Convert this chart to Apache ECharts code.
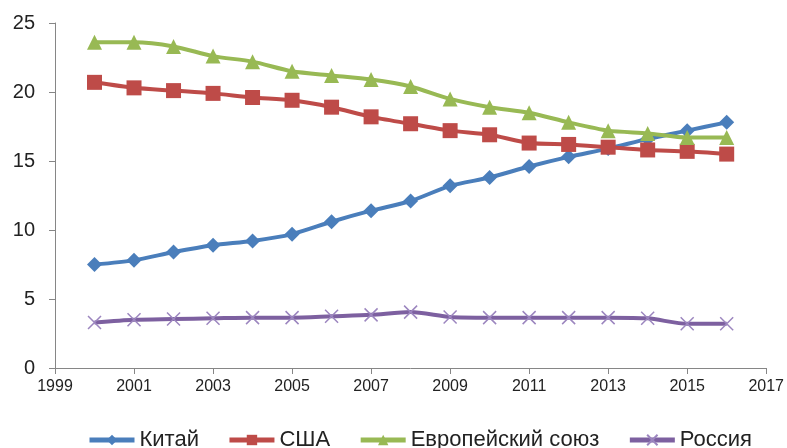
<!DOCTYPE html>
<html><head><meta charset="utf-8">
<script src="https://cdn.jsdelivr.net/npm/echarts@6/dist/echarts.min.js"></script>
<style>html,body{margin:0;padding:0;background:#fff}#c{width:787px;height:448px}</style>
</head><body><div id="c"></div>
<script>
var years = [2000,2001,2002,2003,2004,2005,2006,2007,2008,2009,2010,2011,2012,2013,2014,2015,2016];
var china = [7.5,7.8,8.4,8.9,9.2,9.7,10.6,11.4,12.1,13.2,13.8,14.6,15.3,15.9,16.6,17.2,17.8];
var usa = [20.7,20.3,20.1,19.9,19.6,19.4,18.9,18.2,17.7,17.2,16.9,16.3,16.2,16.0,15.8,15.7,15.5];
var eu = [23.6,23.6,23.3,22.6,22.2,21.5,21.2,20.9,20.4,19.5,18.9,18.5,17.8,17.2,17.0,16.7,16.7];
var russia = [3.3,3.5,3.55,3.6,3.65,3.65,3.75,3.85,4.05,3.7,3.65,3.65,3.65,3.65,3.6,3.2,3.2];
var names = ['Китай','США','Европейский союз','Россия'];
var xMinYear = 1999, xMaxYear = 2017;

function pts(vals){ return years.map(function(y,i){ return [y - xMinYear, vals[i]]; }); }
var crossPath = 'path://M0,0 L10,10 M10,0 L0,10';
function ser(name, vals, color, symbol, size, extra){
  var s = {
    name: name, type: 'line', data: pts(vals), smooth: 0.25,
    symbol: symbol, symbolSize: size, showAllSymbol: true,
    lineStyle: {color: color, width: 4},
    itemStyle: {color: color},
    emphasis: {disabled: true}
  };
  if (extra) for (var k in extra) s[k] = extra[k];
  return s;
}
var font = 'Liberation Sans, Arial, sans-serif';
var chart = echarts.init(document.getElementById('c'));
chart.setOption({
  animation: false,
  grid: {left: 55, right: 15, top: 23, bottom: 80, containLabel: false},
  legend: {
    bottom: -8, left: 82, itemWidth: 45, itemHeight: 13, itemGap: 28,
    lineStyle: {width: 5},
    textStyle: {fontSize: 22, color: '#222', fontFamily: font},
    data: names
  },
  xAxis: {
    type: 'value', min: 0, max: xMaxYear - xMinYear, interval: 2,
    axisLine: {lineStyle: {color: '#868686', width: 1}},
    axisTick: {show: true, length: 6, lineStyle: {color: '#868686'}},
    splitLine: {show: false},
    axisLabel: {fontSize: 16, color: '#222', margin: 11, fontFamily: font,
      formatter: function(v){ return String(v + xMinYear); }}
  },
  yAxis: {
    type: 'value', min: 0, max: 25, interval: 5,
    axisLine: {show: true, lineStyle: {color: '#868686', width: 1}},
    axisTick: {show: true, length: 6, lineStyle: {color: '#868686'}},
    splitLine: {show: false},
    axisLabel: {fontSize: 20, color: '#222', margin: 20, fontFamily: font}
  },
  series: [
    ser(names[0], china, '#4A7EBB', 'diamond', 15),
    ser(names[1], usa, '#BE4B48', 'rect', 15),
    ser(names[2], eu, '#98B954', 'triangle', 15),
    ser(names[3], russia, '#7D60A0', crossPath, 13, {
      itemStyle: {color: 'none', borderColor: '#9c86bf', borderWidth: 1.5}
    })
  ]
});
</script></body></html>
